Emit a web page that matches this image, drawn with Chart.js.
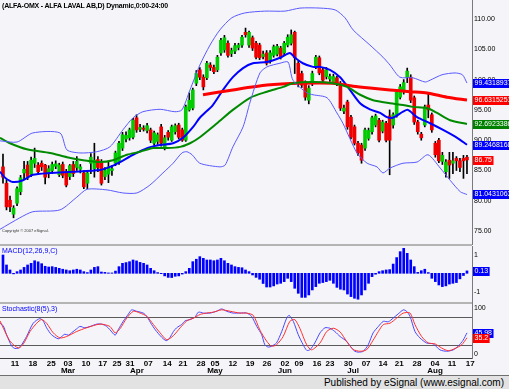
<!DOCTYPE html>
<html>
<head>
<meta charset="utf-8">
<script src="https://cdn.jsdelivr.net/npm/chart.js"></script>
<style>
  body { margin: 0; width: 509px; height: 389px; overflow: hidden; background: #f5f4f8; position: relative; font-family: "Liberation Sans", Arial, sans-serif; }
  .pane { position: absolute; left: 0; width: 509px; }
  .sep { position: absolute; left: 0; width: 472px; height: 2px; background: #b4b4b4; }
  .lbl { position: absolute; left: 2px; white-space: nowrap; }
  #footer { position: absolute; left: 0; top: 375px; width: 509px; height: 14px; background: #e2e2e2; border-top: 1px solid #6f6f6f; box-sizing: border-box; font-size: 10px; line-height: 13px; text-align: right; padding-right: 5px; color: #000; }
</style>
</head>
<body>
<div class="pane" style="top:0;height:245px"><canvas id="main" width="509" height="245"></canvas></div>
<div class="pane" style="top:246px;height:57px"><canvas id="macd" width="509" height="57"></canvas></div>
<div class="pane" style="top:303px;height:72px"><canvas id="stoch" width="509" height="72"></canvas></div>
<div class="sep" style="top:244px"></div>
<div class="sep" style="top:302px"></div>
<div class="lbl" style="top:2px;font:bold 7px 'Liberation Sans';letter-spacing:-0.2px">(ALFA-OMX - ALFA LAVAL AB,D) Dynamic,0:00-24:00</div>
<div class="lbl" style="top:228px;font:4px 'Liberation Sans';color:#333">Copyright © 2007 eSignal.</div>
<div class="lbl" style="top:247px;font:7px 'Liberation Sans';color:#0000ff">MACD(12,26,9,C)</div>
<div class="lbl" style="top:305px;font:7px 'Liberation Sans';color:#0000ff">Stochastic(8(5),3)</div>
<div id="footer">Published by eSignal (www.esignal.com)</div>
<script>
// daily candles, Feb - Aug
const opens  = [85.6,82.9,80.1,77.8,79.6,81.5,84.6,85.9,84.4,86.2,85.9,86.2,85.9,84.6,85.0,85.7,84.3,86.0,84.8,84.0,86.0,85.5,85.2,84.6,82.9,86.2,85.3,86.8,86.4,84.0,84.4,85.0,86.2,86.4,88.7,90.2,90.4,90.5,93.7,91.8,92.0,91.6,91.7,89.5,89.8,92.2,88.9,91.3,90.0,91.4,92.5,91.7,90.0,95.0,95.3,99.4,101.6,100.4,100.3,102.4,102.0,101.6,104.4,104.9,106.0,104.3,104.7,105.3,105.7,107.8,105.7,106.9,106.0,105.7,103.8,104.4,103.0,104.0,104.2,105.2,104.4,105.7,106.0,107.8,102.7,101.0,99.4,96.6,99.4,102.1,103.6,101.6,100.5,100.1,99.6,100.3,99.4,94.8,96.3,93.8,92.2,89.5,89.2,88.7,90.3,91.4,92.5,93.3,91.5,92.8,94.0,92.5,94.2,97.1,98.0,100.4,100.4,97.0,93.0,91.0,92.5,95.8,94.2,89.5,90.0,86.5,84.8,86.7,86.2,87.0,86.6,87.0,87.2];
const highs  = [87.7,83.5,80.8,79.2,82.3,84.2,86.5,86.5,87.2,88.7,86.3,86.6,86.0,85.8,86.4,86.6,86.2,86.4,85.2,86.0,86.5,87.3,86.0,85.0,85.0,87.8,89.5,87.3,86.8,85.5,86.5,85.8,88.2,89.8,91.3,91.4,92.0,93.6,94.2,92.6,92.4,92.8,92.0,91.5,91.2,92.6,90.8,91.6,92.5,92.7,92.8,92.0,95.8,97.8,98.6,101.5,102.0,100.8,103.0,102.8,102.4,104.0,106.8,107.3,106.4,105.2,106.0,106.0,107.3,108.5,108.0,107.2,106.3,106.0,104.7,104.8,104.8,105.7,105.8,105.5,106.3,107.4,108.2,108.0,103.0,101.4,99.8,99.0,101.4,104.0,103.9,101.9,102.0,100.9,100.9,100.6,99.7,95.8,96.6,94.1,92.5,89.8,89.5,92.0,92.0,94.0,94.3,93.6,93.3,93.1,95.0,94.5,98.2,99.2,100.0,101.9,100.8,97.3,93.3,91.3,95.8,97.8,94.5,89.8,90.3,88.0,86.8,88.0,88.0,87.3,87.0,87.5,87.5];
const lows   = [82.9,78.5,78.2,77.2,79.2,81.0,83.5,83.5,84.0,85.5,84.3,85.0,82.8,83.8,84.5,85.3,84.0,83.8,82.3,83.5,84.0,85.0,84.6,82.0,82.0,84.5,83.9,84.8,82.6,83.5,83.0,84.2,85.8,86.0,88.3,89.7,90.0,90.2,91.3,91.4,91.5,91.2,89.6,89.2,89.3,89.0,88.4,90.0,89.8,91.0,90.2,89.8,89.8,94.8,95.0,99.0,100.0,98.3,100.0,101.5,101.0,101.3,104.0,104.5,103.7,103.8,104.3,104.9,105.3,107.0,105.3,104.8,103.4,103.3,103.4,102.4,102.7,103.7,103.9,103.4,104.0,105.4,105.7,101.0,98.8,98.7,96.6,96.0,99.0,101.8,100.8,99.5,100.1,99.7,99.3,99.0,94.9,94.4,91.8,90.2,89.2,87.5,86.2,88.3,90.0,91.0,92.2,89.7,91.2,89.7,84.3,92.0,93.8,96.8,97.6,99.5,96.2,92.6,91.0,90.0,92.2,93.7,91.3,87.2,86.3,86.0,83.9,83.7,84.5,85.0,84.8,83.7,84.5];
const closes = [83.9,79.0,79.0,78.8,82.0,83.8,85.2,84.0,86.7,87.0,84.8,85.6,83.9,85.3,86.0,86.1,85.9,84.2,82.6,85.8,84.5,86.5,85.6,82.3,84.6,87.2,86.7,85.5,82.9,85.0,85.6,85.3,87.9,89.5,90.9,90.8,91.7,93.3,91.7,92.1,91.8,92.4,90.0,91.2,90.9,89.5,90.4,90.5,92.2,92.4,90.5,90.0,95.5,96.6,98.3,101.0,100.4,98.8,102.7,102.0,101.3,103.7,106.5,106.9,104.0,104.8,105.6,105.7,107.0,107.4,107.8,105.2,103.7,103.6,104.2,102.7,104.4,105.4,105.5,103.7,106.0,107.0,107.4,103.6,99.4,99.1,97.1,98.6,101.0,103.7,101.1,99.9,101.6,100.5,100.5,99.3,95.3,95.3,92.2,90.5,89.5,87.9,86.7,91.7,91.6,93.7,94.0,90.0,93.0,90.0,90.0,94.2,97.9,98.8,99.5,101.4,96.6,93.0,91.4,90.4,95.5,95.0,91.7,87.6,86.6,87.5,86.4,85.9,86.6,86.6,85.5,86.6,86.75];

// overlays as [day, price]
const upperBand = [[-0.85,89.9],[4,89.7],[8.5,91.2],[16.2,91.2],[18.2,88.4],[21.9,87.9],[26.7,88.1],[30.4,88.9],[34.1,91.7],[37,93.7],[39.8,94.7],[44.7,95.1],[48.9,94.7],[50.9,95.0],[53.2,98.3],[56,102.4],[58.9,105.7],[61.7,108.2],[65.1,110.2],[68.8,111.0],[74.5,111.3],[80.2,111.3],[84.5,111.8],[90.2,111.8],[94.5,111.5],[97.3,110.2],[99.6,108.2],[104.4,105.7],[108.1,103.7],[110.1,102.4],[112.9,100.4],[116.6,100.3],[120.1,99.6],[121.5,99.9],[124.9,100.8],[128.6,101.1],[130.7,100.8],[132,99.43]];
const lowerBand = [[-0.85,75.3],[4.8,77.2],[8.5,78.2],[16.2,78.5],[21,80.6],[23.9,81.9],[29.6,81.8],[34.1,81.3],[38.1,81.3],[41.8,82.6],[45.5,84.6],[48.4,86.2],[50.9,87.9],[52.3,88.1],[53.8,87.6],[56,86.2],[61.7,85.6],[63.2,85.9],[65.4,88.9],[68.3,92.2],[70.3,96.3],[73.1,101.1],[75.1,102.1],[78.8,102.7],[81.1,102.9],[82.5,99.9],[86.5,97.8],[88.2,97.5],[92.2,97.0],[95,94.5],[96.7,92.8],[100.7,87.9],[103.6,86.2],[106.4,85.6],[108.1,84.6],[110.1,85.4],[113.8,86.2],[117.8,86.4],[120.9,87.6],[124.4,85.4],[127.2,83.4],[130.1,81.5],[132,81.04]];
const blueAvg = [[-0.85,84.8],[0.6,83.8],[2.8,83.1],[5.7,83.4],[8.5,84.3],[13.4,84.6],[19.9,84.8],[27.6,85.1],[30.4,85.6],[33.3,86.4],[37,87.6],[41,88.7],[44.7,89.2],[48.4,89.5],[51.2,90.4],[54.1,92.2],[56,93.7],[59.7,95.8],[62.6,98.3],[65.4,100.4],[68.3,101.9],[71.1,102.7],[75.1,102.9],[78.8,103.6],[81.6,104.4],[83.1,103.6],[85.3,102.7],[88.2,102.1],[90.2,102.1],[93,101.6],[95.9,100.4],[98.7,98.3],[101.6,96.1],[104.4,95.1],[107.3,94.5],[109.2,93.8],[110.9,93.7],[113.8,94.7],[115.2,95.0],[117.8,93.8],[121.5,92.8],[125.2,91.7],[129.2,90.4],[132,89.25]];
const greenAvg = [[-0.85,90.4],[2,89.5],[6.8,88.5],[13.4,87.9],[18.2,87.2],[22.8,86.7],[27.6,86.4],[31.3,86.7],[35.3,87.6],[39,88.1],[42.7,88.7],[46.7,88.7],[50.4,88.9],[53.2,89.5],[56,90.5],[60.9,92.8],[65.4,95.0],[70.3,97.0],[75.1,98.0],[79.7,98.8],[82.5,99.4],[88.2,99.6],[93.9,99.4],[97.9,98.8],[101.6,97.5],[105.3,96.6],[110.1,96.1],[113.8,95.8],[116.6,95.5],[120.6,95.3],[123.5,94.5],[127.2,93.3],[132,92.69]];
const redAvg = [[56.9,97.5],[65.4,98.3],[75.1,99.1],[84.5,99.4],[93.9,99.4],[99.6,98.9],[104.4,98.6],[110.1,98.3],[115.8,98.0],[120.6,97.8],[126.3,97.1],[132,96.63]];

// MACD histogram, one per day
const macdHist = [0.99,0.45,0.18,-0.03,0.09,0.18,0.32,0.45,0.54,0.68,0.62,0.52,0.38,0.34,0.36,0.32,0.27,0.22,0.18,0.14,0.18,0.22,0.18,0.09,0.04,0.18,0.32,0.36,0.07,0.05,0.02,0.02,0.12,0.36,0.54,0.58,0.63,0.72,0.67,0.59,0.54,0.45,0.27,0.14,0.04,-0.02,-0.14,-0.22,-0.23,-0.16,-0.14,-0.04,0.09,0.27,0.63,0.76,0.9,0.81,0.72,0.72,0.68,0.72,0.81,0.68,0.54,0.45,0.36,0.32,0.3,0.18,0.09,-0.09,-0.22,-0.32,-0.55,-0.74,-0.74,-0.68,-0.58,-0.54,-0.45,-0.27,-0.45,-0.81,-1.08,-1.3,-1.3,-1.17,-0.9,-0.72,-0.54,-0.5,-0.45,-0.38,-0.54,-0.76,-0.86,-0.9,-1.12,-1.26,-1.35,-1.4,-1.17,-0.9,-0.54,-0.18,-0.05,0.09,0.14,0.18,0.2,0.5,0.85,1.17,1.35,1.08,0.72,0.36,0.05,0.14,0.22,0.04,-0.27,-0.45,-0.63,-0.72,-0.68,-0.58,-0.54,-0.5,-0.3,-0.12,0.13];

// stochastic %K (blue) and %D (red) as [day, value]
const stochK = [[-0.85,67],[0.1,61],[1,42],[2.5,17],[3.4,12],[4.4,13],[5.3,20],[6.7,38],[8.6,67],[10.5,77],[11.5,71],[12.4,57],[13.8,42],[15.7,33],[16.7,38],[17.6,43],[18.6,41],[19.5,46],[21,55],[21.9,60],[23.3,57],[24.8,60],[26.7,65],[28.1,65],[29.5,60],[30.4,53],[31.9,41],[32.8,53],[34.2,71],[35.7,87],[36.6,96],[38,93],[39.9,89],[40.9,82],[42.3,64],[43.7,49],[45.6,33],[46.6,29],[47.5,36],[48.5,49],[49.4,57],[50.8,64],[51.8,72],[53.2,75],[54.6,80],[55.6,91],[57,89],[58.9,89],[60.8,93],[62.2,98],[63.6,93],[65.5,89],[67.4,89],[69.3,89],[70.7,82],[72.2,60],[73.6,42],[74.5,20],[75.5,15],[76.4,17],[77.8,24],[79.3,49],[80.7,78],[81.4,84],[82.6,71],[84,42],[85.4,20],[86.4,8],[87.3,9],[88.7,24],[90.2,46],[91.6,57],[93,56],[94.4,49],[95.9,38],[97.7,28],[99.2,13],[100.1,6],[101.1,4],[102.5,6],[103.9,20],[105.3,46],[106.8,60],[108.2,71],[109.6,70],[111,78],[112.4,87],[113.9,96],[114.8,93],[115.8,82],[117.2,49],[118.6,35],[120.5,24],[122.4,22],[124.3,9],[126.2,6],[128.1,9],[129.5,17],[130.9,30],[132,45.98]];
const stochD = [[-0.85,72],[2,28],[4.4,13],[5.8,22],[7.7,49],[9.6,67],[11,75],[12.4,67],[14.3,46],[16.2,35],[18.1,38],[21,49],[23.8,57],[27.6,65],[30.4,60],[31.9,46],[33.3,55],[35.2,78],[37.1,93],[39,89],[40.9,82],[42.8,64],[44.7,46],[46.6,31],[48.5,40],[50.4,57],[52.3,72],[54.2,78],[56.1,86],[57.9,89],[59.8,91],[62.2,96],[64.6,93],[67.4,89],[69.3,89],[71.2,84],[73.1,52],[75,28],[76.4,17],[77.8,20],[79.7,38],[81.6,71],[83,75],[84.5,55],[86.4,20],[87.8,9],[90.2,24],[92.1,49],[94,56],[95.9,48],[97.7,28],[99.6,10],[101.5,6],[103.4,9],[105.3,30],[106.8,49],[108.2,64],[110.1,67],[112,78],[113.9,89],[115.8,89],[117.2,64],[119.1,38],[121,24],[122.9,22],[124.8,13],[126.7,7],[128.6,12],[130.5,20],[132,35.2]];
const stochLevels = [20, 80];

// x axis labels
const dayTickPos = [3.4,8.5,13.7,18.5,23.6,28.4,32.4,36.1,41.3,46.7,51.2,56.3,60.3,65.4,70.3,75.1,80.2,84.2,89.3,93.0,98.2,103.3,108.1,112.7,117.8,122.9,127.7,132.9];
const dayTickText = ['11','18','25','03','10','17','25','31','07','14','21','28','05','12','19','26','02','09','16','23','30','07','14','21','28','04','11','17'];
const monthPos = [18.5,38.1,60.3,80.2,99.6,122.9];
const monthText = ['Mar','Apr','May','Jun','Jul','Aug'];

// right-side value tags
const mainTagValues = [99.4318937, 96.6315251, 92.6923386, 89.2468168, 86.75, 81.0431063];
const mainTagColors = ['#0000ff', '#ff0000', '#008000', '#0000ff', '#ff0000', '#0000ff'];
const macdTagValues = [0.13];
const macdTagColors = ['#0000ff'];
const stochTagValues = [45.98, 35.2];
const stochTagColors = ['#0000ff', '#ff0000'];

const FONT = 'Liberation Sans';
const XMIN = -0.85, XMAX = 133.43;

const xHidden = { type: 'linear', min: XMIN, max: XMAX, offset: false, display: false };

function yAxis(min, max, vals, fmt) {
  return {
    position: 'right', min: min, max: max,
    grid: { display: false, drawTicks: false },
    border: { display: true, color: '#7a7a7a' },
    ticks: { font: { size: 7, family: FONT }, color: '#000', padding: 2, callback: fmt },
    afterBuildTicks: s => { s.ticks = vals.map(v => ({ value: v })); },
    afterFit: s => { s.width = 37; s.paddingTop = 0; s.paddingBottom = 0; }
  };
}

function tagPlugin(values, colors) {
  return {
    id: 'tags',
    afterDraw(chart) {
      const ctx = chart.ctx, y = chart.scales.y;
      ctx.save();
      ctx.font = '7px ' + FONT;
      ctx.textBaseline = 'middle';
      values.forEach((v, i) => {
        const py = Math.round(y.getPixelForValue(v));
        const t = String(v);
        const w = ctx.measureText(t).width + 3;
        ctx.fillStyle = colors[i];
        ctx.fillRect(473, py - 4, w, 9);
        ctx.fillStyle = '#fff';
        ctx.fillText(t, 474.5, py + 0.5);
      });
      ctx.restore();
    }
  };
}

const line = (pts, color, width) => ({
  type: 'line', data: pts.map(p => ({ x: p[0], y: p[1] })),
  borderColor: color, borderWidth: width, pointRadius: 0, tension: 0.25, order: 0
});

const common = {
  responsive: false, animation: false,
  plugins: { legend: { display: false }, tooltip: { enabled: false } },
  layout: { padding: 0 }
};

new Chart(document.getElementById('main'), {
  type: 'bar',
  data: {
    datasets: [
      { data: closes.map((c, i) => ({ x: i, y: [lows[i], highs[i]] })), backgroundColor: '#000', barThickness: 1, grouped: false, order: 3 },
      { data: closes.map((c, i) => ({ x: i, y: [opens[i], c] })),
        backgroundColor: closes.map((c, i) => c >= opens[i] ? '#00cc00' : '#ee0000'),
        barThickness: 3, grouped: false, order: 2 },
      line(upperBand, '#5a5aff', 1),
      line(lowerBand, '#5a5aff', 1),
      line(greenAvg, '#008a00', 2),
      line(redAvg, '#ff0000', 3),
      line(blueAvg, '#0000ff', 2)
    ]
  },
  options: Object.assign({}, common, {
    scales: {
      x: xHidden,
      y: yAxis(72.71, 113.135, [75, 80, 85, 90, 95, 100, 105, 110], v => v.toFixed(2))
    }
  }),
  plugins: [tagPlugin(mainTagValues, mainTagColors)]
});

new Chart(document.getElementById('macd'), {
  type: 'bar',
  data: {
    datasets: [
      { data: macdHist.map((v, i) => ({ x: i, y: v })), backgroundColor: '#0000ff', barThickness: 2, grouped: false }
    ]
  },
  options: Object.assign({}, common, {
    scales: {
      x: xHidden,
      y: yAxis(-1.605, 1.476, [-1, 1], v => String(v))
    }
  }),
  plugins: [tagPlugin(macdTagValues, macdTagColors)]
});

new Chart(document.getElementById('stoch'), {
  type: 'line',
  data: {
    datasets: [
      line(stochD, '#ff3030', 1),
      line(stochK, '#4848ff', 1)
    ]
  },
  options: Object.assign({}, common, {
    scales: {
      x: {
        type: 'linear', min: XMIN, max: XMAX, offset: false,
        grid: { display: false, drawTicks: false },
        border: { display: true, color: '#404040' },
        ticks: { font: { size: 8, weight: 'bold', family: FONT }, color: '#000', padding: 1, maxRotation: 0, autoSkip: false,
                 callback: (v, i) => dayTickText[i] },
        afterBuildTicks: s => { s.ticks = dayTickPos.map(v => ({ value: v })); },
        afterFit: s => { s.height = 17; s.paddingLeft = 0; s.paddingRight = 0; }
      },
      y: yAxis(-8.7, 110.9, [0, 100], v => String(v))
    }
  }),
  plugins: [
    {
      id: 'levels',
      beforeDatasetsDraw(chart) {
        const ctx = chart.ctx, y = chart.scales.y, a = chart.chartArea;
        ctx.save();
        ctx.strokeStyle = '#5a5a5a';
        ctx.lineWidth = 1;
        stochLevels.forEach(l => {
          const py = Math.round(y.getPixelForValue(l)) + 0.5;
          ctx.beginPath(); ctx.moveTo(a.left, py); ctx.lineTo(a.right, py); ctx.stroke();
        });
        ctx.restore();
      }
    },
    {
      id: 'months',
      afterDraw(chart) {
        const ctx = chart.ctx, x = chart.scales.x;
        ctx.save();
        ctx.font = 'bold 8px ' + FONT;
        ctx.fillStyle = '#000';
        ctx.textAlign = 'center';
        ctx.textBaseline = 'middle';
        monthPos.forEach((p, i) => ctx.fillText(monthText[i], x.getPixelForValue(p), chart.chartArea.bottom + 13));
        ctx.restore();
      }
    },
    tagPlugin(stochTagValues, stochTagColors)
  ]
});
</script>
</body>
</html>
